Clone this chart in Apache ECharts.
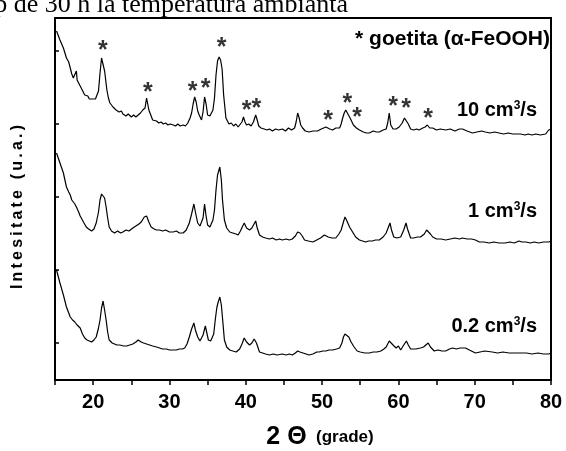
<!DOCTYPE html>
<html>
<head>
<meta charset="utf-8">
<script src="https://cdn.jsdelivr.net/npm/echarts@6/dist/echarts.min.js"></script>
<style>
html,body{margin:0;padding:0;background:#fff;}
#main{width:566px;height:451px;}
</style>
</head>
<body>
<div id="main"></div>
<script>
// difractograme XRD, unitati arbitrare (inaltime deasupra axei)
var curba10 = [[15.2,349],[15.65,340],[16.1,332],[16.5,322],[16.8,318],[17.0,312],[17.2,306],[17.4,302],[17.6,304],[17.8,309],[17.9,300],[18.1,298],[18.3,294],[18.5,292],[18.7,288],[18.9,285],[19.1,283],[19.3,284],[19.5,281],[19.7,283],[19.9,281],[20.1,283],[20.3,281],[20.5,285],[20.7,289],[20.9,307],[21.1,322],[21.3,323],[21.5,309],[21.8,290],[22.0,282],[22.2,277],[22.4,275],[22.6,273],[22.8,272],[23.0,270],[23.2,272],[23.4,268],[23.7,269],[23.9,266],[24.1,267],[24.3,264],[24.6,266],[24.8,265],[25.0,263],[25.3,265],[25.6,263],[25.9,265],[26.2,267],[26.5,270],[26.8,272],[27.0,282],[27.15,280],[27.3,270],[27.5,266],[27.8,260],[28.0,258],[28.3,259],[28.6,257],[28.9,258],[29.2,256],[29.5,257],[29.8,255],[30.1,256],[30.5,255],[30.8,254],[31.1,256],[31.4,254],[31.8,255],[32.1,254],[32.4,257],[32.7,262],[32.9,267],[33.1,276],[33.3,283],[33.5,278],[33.7,269],[33.9,265],[34.2,260],[34.4,268],[34.6,283],[34.8,276],[35.0,265],[35.3,264],[35.5,263],[35.7,270],[35.9,282],[36.1,305],[36.3,319],[36.5,323],[36.7,320],[36.9,311],[37.1,285],[37.4,262],[37.6,260],[37.8,256],[38.1,257],[38.4,254],[38.7,256],[39.0,253],[39.2,254],[39.5,258],[39.7,263],[39.9,258],[40.1,255],[40.4,256],[40.7,254],[41.0,258],[41.3,265],[41.5,260],[41.7,254],[42.0,252],[42.4,251],[42.8,250],[43.1,251],[43.5,249],[43.9,251],[44.3,250],[44.8,251],[45.2,249],[45.6,252],[46.0,250],[46.4,252],[46.6,258],[46.8,267],[47.0,262],[47.2,255],[47.45,252],[47.8,249],[48.3,248],[48.8,249],[49.4,249],[49.9,251],[50.5,253],[51.0,251],[51.4,250],[51.8,252],[52.3,252],[52.5,256],[52.7,262],[52.9,267],[53.1,270],[53.3,268],[53.6,263],[53.8,260],[54.1,255],[54.5,252],[54.9,250],[55.4,248],[55.8,247],[56.2,247],[56.7,249],[57.1,248],[57.5,248],[58.0,250],[58.4,251],[58.6,257],[58.8,267],[58.9,266],[59.0,255],[59.3,251],[59.7,251],[60.1,253],[60.5,257],[60.8,262],[61.05,264],[61.3,256],[61.6,251],[62.0,250],[62.4,251],[62.7,250],[63.2,252],[63.5,253],[63.8,255],[64.1,252],[64.5,252],[65.0,250],[65.5,251],[66.2,250],[66.8,251],[67.4,249],[68.0,251],[68.4,251],[69.0,249],[69.7,247],[70.3,248],[70.9,249],[71.4,248],[72.0,247],[72.6,248],[73.2,247],[73.8,246],[74.4,247],[75.0,246],[75.4,246],[76.0,246],[76.6,245],[77.0,246],[77.5,245],[78.0,246],[78.6,245],[79.3,246],[79.7,250],[80.0,251]];

var curba1 = [[15.2,227],[15.65,217],[16.1,207],[16.5,193],[16.8,188],[17.0,185],[17.2,180],[17.4,178],[17.6,176],[17.8,173],[18.1,168],[18.3,164],[18.5,162],[18.8,157],[19.1,153],[19.4,151],[19.8,149],[20.1,151],[20.4,157],[20.7,168],[20.9,180],[21.1,186],[21.3,188],[21.5,182],[21.7,173],[21.9,162],[22.1,153],[22.4,149],[22.8,147],[23.2,149],[23.6,147],[23.9,148],[24.3,150],[24.7,149],[25.2,152],[25.6,154],[26.0,156],[26.3,158],[26.7,163],[27.0,164],[27.3,158],[27.6,153],[28.0,151],[28.3,150],[28.7,150],[29.1,149],[29.5,150],[30.0,148],[30.5,148],[30.9,149],[31.3,147],[31.8,147],[32.2,150],[32.6,157],[32.9,166],[33.2,176],[33.4,168],[33.7,157],[34.0,154],[34.2,153],[34.4,162],[34.6,176],[34.8,164],[35.0,155],[35.3,153],[35.5,153],[35.7,160],[35.9,170],[36.1,190],[36.3,205],[36.6,213],[36.8,200],[36.95,180],[37.2,160],[37.5,152],[37.9,148],[38.3,147],[38.7,146],[39.0,145],[39.3,149],[39.6,154],[39.8,157],[40.1,152],[40.5,150],[40.8,152],[41.0,154],[41.3,159],[41.5,152],[41.8,145],[42.2,143],[42.6,142],[43.1,141],[43.5,142],[44.0,140],[44.4,141],[44.8,140],[45.3,141],[45.7,140],[46.1,141],[46.5,144],[46.8,148],[47.1,147],[47.4,144],[47.7,140],[48.2,139],[48.8,138],[49.3,140],[49.8,142],[50.3,145],[50.8,143],[51.3,142],[51.8,142],[52.2,146],[52.5,150],[52.8,158],[53.0,163],[53.2,160],[53.6,153],[54.0,148],[54.4,143],[54.9,140],[55.3,139],[55.7,138],[56.1,139],[56.6,139],[57.0,140],[57.5,140],[58.0,143],[58.4,147],[58.7,153],[58.9,157],[59.1,150],[59.4,143],[59.8,142],[60.3,143],[60.7,150],[61.0,157],[61.2,151],[61.6,142],[62.0,142],[62.5,143],[62.9,143],[63.4,146],[63.7,150],[63.9,152],[64.2,146],[64.5,143],[65.0,141],[65.6,141],[66.2,140],[66.8,141],[67.4,142],[68.0,141],[68.4,142],[69.0,141],[69.6,141],[70.1,140],[70.6,138],[71.2,138],[71.9,137],[72.5,138],[73.2,137],[74.0,137],[74.6,138],[75.2,137],[75.8,139],[76.2,138],[76.7,138],[77.3,137],[77.8,138],[78.4,137],[79.0,138],[79.7,138],[80.0,139]];

var curba02 = [[15.2,110],[15.65,97],[16.1,85],[16.5,73],[16.8,67],[17.0,63],[17.3,60],[17.6,58],[17.9,55],[18.3,52],[18.6,46],[18.9,42],[19.2,40],[19.5,39],[19.8,38],[20.1,40],[20.4,43],[20.7,52],[20.9,60],[21.1,72],[21.3,79],[21.5,70],[21.7,60],[21.9,48],[22.1,40],[22.5,37],[23.1,35],[23.5,35],[24.0,34],[24.4,34],[24.8,35],[25.2,36],[25.6,38],[25.9,40],[26.3,38],[26.6,37],[27.0,36],[27.4,35],[27.8,34],[28.3,33],[28.7,32],[29.1,31],[29.6,31],[30.0,30],[30.5,30],[30.9,30],[31.3,31],[31.7,31],[32.0,32],[32.3,36],[32.6,43],[32.9,51],[33.2,57],[33.4,50],[33.7,43],[34.0,39],[34.2,37],[34.4,45],[34.7,54],[34.9,47],[35.1,40],[35.4,39],[35.6,38],[35.8,46],[36.0,60],[36.2,72],[36.35,77],[36.6,83],[36.8,75],[36.95,62],[37.2,40],[37.5,33],[37.9,30],[38.3,29],[38.75,28],[39.2,31],[39.5,36],[39.8,42],[40.1,38],[40.5,35],[40.8,37],[41.1,41],[41.4,37],[41.8,28],[42.2,27],[42.6,26],[43.1,25],[43.6,26],[44.1,25],[44.8,26],[45.3,25],[45.7,26],[46.1,25],[46.5,27],[46.8,29],[47.1,28],[47.5,27],[47.9,26],[48.3,25],[48.8,26],[49.3,28],[49.6,28],[50.1,29],[50.5,29],[50.9,30],[51.4,30],[51.9,31],[52.3,32],[52.6,37],[52.8,43],[53.0,46],[53.2,48],[53.5,43],[53.8,38],[54.2,33],[54.6,29],[55.0,28],[55.6,27],[56.2,27],[56.7,28],[57.2,28],[57.7,29],[58.1,31],[58.4,33],[58.6,35],[58.8,39],[59.0,41],[59.3,35],[59.5,33],[59.7,32],[60.0,34],[60.3,30],[60.7,35],[61.05,39],[61.3,35],[61.6,31],[61.8,30],[62.3,31],[62.9,32],[63.3,33],[63.6,35],[63.9,37],[64.2,33],[64.7,29],[65.2,30],[65.7,29],[66.2,29],[66.7,31],[67.1,32],[67.6,31],[68.1,32],[68.8,32],[69.3,30],[70.1,27],[70.7,28],[71.3,29],[72.3,28],[73.0,27],[73.7,28],[74.5,27],[75.2,27],[76.0,27],[76.8,27],[77.5,26],[78.3,27],[79.0,26],[79.7,26],[80.0,27]];

// asteriscuri pentru goetita (pozitie 2theta, inaltime)
var steleX = [21.27, 27.16, 33.04, 34.74, 36.83, 40.1, 41.4, 50.8, 53.3, 54.6, 59.3, 61.0, 63.9];
var steleY = [335, 293, 294, 297, 338, 275, 277, 265, 282, 268, 279, 277, 267];

var etichete = ['10', '1', '0.2'];
var xTicks = [20, 30, 40, 50, 60, 70, 80];

var stele = [];
for (var i = 0; i < steleX.length; i++) {
	stele.push([steleX[i], steleY[i]]);
}

var myChart = echarts.init(document.getElementById('main'), null, {renderer: 'canvas'});

function linie(data) {
	return {
		type: 'line',
		data: data,
		symbol: 'none',
		smooth: false,
		lineStyle: {color: '#000', width: 1.2},
		animation: false
	};
}

// spatiere intre litere (canvas nu are letter-spacing)
function rar(s) {
	return s.split('').join('\u2009');
}

var fontB = 'Liberation Sans, Arial, sans-serif';
var bogat = {
	a: {font: 'bold 20px ' + fontB, fill: '#000'},
	s: {font: 'bold 12px ' + fontB, fill: '#000', verticalAlign: 'top', padding: [0, 0, 9, 0]}
};

var option = {
	backgroundColor: '#fff',
	animation: false,
	grid: [
		{left: 55, right: 15, top: 18, bottom: 71, show: true, borderColor: '#000', borderWidth: 2},
		{left: 55, right: 15, top: 51, bottom: 108, show: false}
	],
	xAxis: [{
		type: 'value', min: 15, max: 80, interval: 5,
		axisLine: {lineStyle: {color: '#000', width: 2}},
		axisTick: {inside: false, length: 5, lineStyle: {color: '#000', width: 1.5}},
		splitLine: {show: false},
		axisLabel: {
			color: '#000', fontWeight: 'bold', fontSize: 20, fontFamily: fontB, margin: 12,
			formatter: function(v) { return xTicks.indexOf(v) >= 0 ? String(v) : ''; }
		}
	}, {
		gridIndex: 1, type: 'value', min: 15, max: 80, show: false
	}],
	yAxis: [{
		type: 'value', min: 0, max: 362,
		axisLine: {show: true, lineStyle: {color: '#000', width: 2}},
		axisTick: {show: false},
		axisLabel: {show: false},
		splitLine: {show: false}
	}, {
		gridIndex: 1, type: 'value', min: 0, max: 4, interval: 1,
		axisLine: {show: false},
		axisTick: {show: true, inside: true, length: 4, lineStyle: {color: '#000', width: 1.5}},
		axisLabel: {show: false},
		splitLine: {show: false}
	}],
	series: [
		linie(curba10),
		linie(curba1),
		linie(curba02),
		{
			type: 'scatter',
			data: stele,
			symbolSize: 0,
			silent: true,
			label: {
				show: true, position: 'inside', formatter: '*', offset: [0, 6],
				color: '#000', fontSize: 25, fontWeight: 'bold', fontFamily: fontB
			}
		}
	],
	graphic: [
		{
			type: 'text', x: 348, y: 5,
			style: {text: 'timp de 30 h la temperatura ambianta', font: '26px "Liberation Serif"', fill: '#000', textAlign: 'right', textVerticalAlign: 'middle'}
		},
		{
			type: 'text', x: 550, y: 39,
			style: {text: '* goetita (\u03b1-FeOOH)', font: 'bold 21px ' + fontB, fill: '#000', textAlign: 'right', textVerticalAlign: 'middle'}
		},
		{
			type: 'text', x: 537, y: 110,
			style: {text: '{a|' + etichete[0] + ' cm}{s|3}{a|/s}', textAlign: 'right', textVerticalAlign: 'middle', rich: bogat}
		},
		{
			type: 'text', x: 537, y: 211,
			style: {text: '{a|' + etichete[1] + ' cm}{s|3}{a|/s}', textAlign: 'right', textVerticalAlign: 'middle', rich: bogat}
		},
		{
			type: 'text', x: 537, y: 326,
			style: {text: '{a|' + etichete[2] + ' cm}{s|3}{a|/s}', textAlign: 'right', textVerticalAlign: 'middle', rich: bogat}
		},
		{
			type: 'text', x: 18, y: 207, rotation: Math.PI / 2,
			style: {text: rar('Intesitate (u.a.)'), font: 'bold 16px ' + fontB, fill: '#000', textAlign: 'center', textVerticalAlign: 'middle'}
		},
		{
			type: 'text', x: 320, y: 437,
			style: {
				text: '{b|2 \u0398}{s|  (grade)}', textAlign: 'center', textVerticalAlign: 'middle',
				rich: {b: {font: 'bold 25px ' + fontB, fill: '#000'}, s: {font: 'bold 17px ' + fontB, fill: '#000'}}
			}
		}
	]
};

myChart.setOption(option);
</script>
</body>
</html>
